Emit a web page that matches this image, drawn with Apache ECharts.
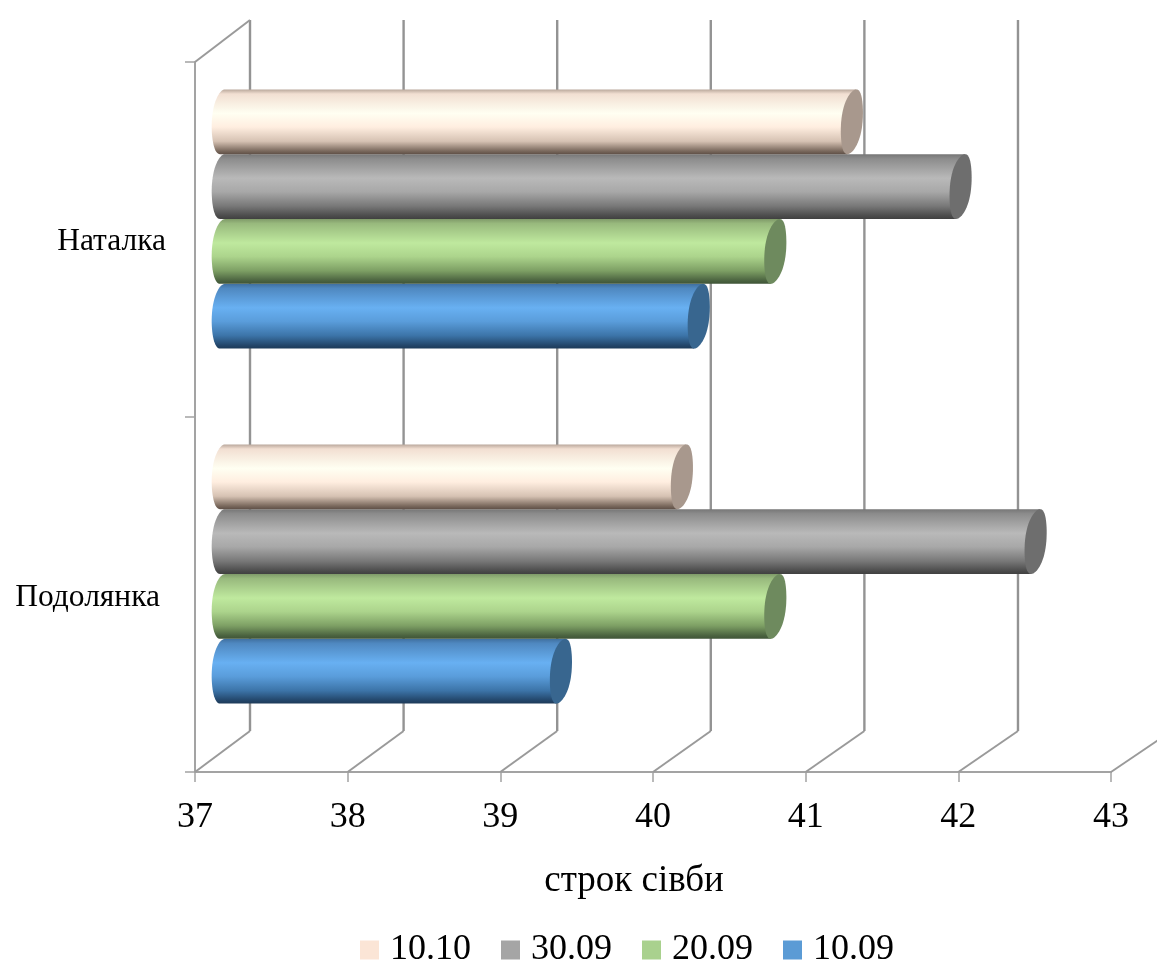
<!DOCTYPE html>
<html><head><meta charset="utf-8">
<style>html,body{margin:0;padding:0;background:#fff}#c{width:1157px;height:962px}</style>
<script src="https://cdn.jsdelivr.net/npm/echarts@6/dist/echarts.min.js"></script>
</head><body><div id="c"></div>
<script>
const categories = ['Подолянка', 'Наталка'];
const seriesNames = ['10.09', '20.09', '30.09', '10.10'];
const v1009 = [39.21, 40.11];
const v2009 = [40.61, 40.61];
const v3009 = [42.31, 41.82];
const v1010 = [40.0, 41.11];
const xTicks = [37, 38, 39, 40, 41, 42, 43];
const legendOrder = ['10.10', '30.09', '20.09', '10.09'];
const values = [v1009, v2009, v3009, v1010];
const legendColors = ['#5b9bd5', '#a9d18e', '#a5a5a5', '#fbe5d6'];
const capColors = ['#38668f', '#6e8a5e', '#6e6e6e', '#a8988d'];
const stopOffsets = [0, 0.07, 0.37, 0.58, 0.8, 0.95, 1];
const bandStops = [
  ['#3f6f9f', '#4f88c0', '#68b0f2', '#5a9ddb', '#3c74a8', '#23466a', '#1d3a58'],
  ['#7f9a69', '#98b97d', '#bfe99e', '#acd48c', '#7d9f64', '#4b6340', '#3f5437'],
  ['#767676', '#8c8c8c', '#b9b9b9', '#a8a8a8', '#787878', '#4c4c4c', '#404040'],
  ['#b9a79b', '#f2dfd2', '#fffff2', '#ffeee0', '#d6c2b3', '#7a695d', '#5f5047']
];
const font = '"Liberation Serif","Times New Roman",serif';
const DEPTH_X = 55, DEPTH_Y = 41, BACK_STRETCH = 0.93, BAR_FRAC = 0.1825;
const RX = 10.7, SHEAR_R = 4.5, SHEAR_L = 2.5;

function ellipseArc(cx, cy, ry, shear, a0, a1, n) {
  const pts = [];
  for (let k = 0; k <= n; k++) {
    const t = a0 + (a1 - a0) * k / n;
    const st = Math.sin(t);
    pts.push([cx + RX * Math.cos(t) - shear * (0.6 * st + 0.4 * st * st * st), cy + ry * st]);
  }
  return pts;
}

function wallItem(params, api) {
  const v = api.value(0);
  const g = params.coordSys;
  const fx = api.coord([v, 0])[0];
  const bot = g.y + g.height;
  const bx = fx + DEPTH_X + (v - xTicks[0]) * BACK_STRETCH;
  const diag = { stroke: '#9a9a9a', lineWidth: 2, fill: null };
  const vert = { stroke: '#939393', lineWidth: 2.4, fill: null };
  const children = [{ type: 'polyline', shape: { points: [[fx, bot], [bx, bot - DEPTH_Y]] }, style: diag }];
  if (v < xTicks[xTicks.length - 1]) {
    children.push({ type: 'polyline', shape: { points: [[bx, bot - DEPTH_Y], [bx, g.y - DEPTH_Y - 1]] }, style: vert });
  }
  if (v === xTicks[0]) {
    children.push({ type: 'polyline', shape: { points: [[fx, g.y], [bx, g.y - DEPTH_Y - 1]] }, style: diag });
  }
  return { type: 'group', children };
}

function barItem(si) {
  return function (params, api) {
    const v = api.value(0);
    const c = api.coord([v, api.value(1)]);
    const c0 = api.coord([xTicks[0], api.value(1)]);
    const band = api.size([0, 1])[1];
    const h = band * BAR_FRAC;
    const cy = c[1] - DEPTH_Y / 2 - (si - 1.5) * h;
    const cxR = c[0] + (DEPTH_X + (v - xTicks[0]) * BACK_STRETCH) / 2;
    const cxL = c0[0] + DEPTH_X / 2;
    const ry = h / 2;
    const left = ellipseArc(cxL, cy, ry, SHEAR_L, -Math.PI / 2, -Math.PI * 3 / 2, 32);
    const body = left.concat([[cxR - SHEAR_R, cy + ry], [cxR + SHEAR_R, cy - ry]]);
    const grad = new echarts.graphic.LinearGradient(0, 0, 0, 1,
      stopOffsets.map((o, k) => ({ offset: o, color: bandStops[si][k] })));
    const cap = ellipseArc(cxR, cy, ry, SHEAR_R, 0, Math.PI * 2, 64);
    return { type: 'group', children: [
      { type: 'polygon', shape: { points: body }, style: { fill: grad } },
      { type: 'polygon', shape: { points: cap }, style: { fill: capColors[si] } }
    ] };
  };
}

const series = [{
  type: 'custom', name: 'wall', z: 1, silent: true, clip: false,
  data: xTicks.map(t => [t, 0]), encode: { x: 0, y: 1 }, renderItem: wallItem
}];
seriesNames.forEach((n, si) => {
  series.push({
    type: 'custom', name: n, z: 3 + si, clip: false,
    itemStyle: { color: legendColors[si] },
    data: values[si].map((v, i) => [v, i]), encode: { x: 0, y: 1 },
    renderItem: barItem(si)
  });
});

const chart = echarts.init(document.getElementById('c'), null, { renderer: 'canvas' });
chart.setOption({
  animation: false,
  backgroundColor: '#fff',
  grid: { left: 195, right: 46, top: 62, bottom: 190 },
  legend: {
    data: legendOrder, left: 360, top: 932, padding: 0, itemWidth: 19, itemHeight: 19, itemGap: 30,
    icon: 'rect', selectedMode: false,
    textStyle: { fontFamily: font, fontSize: 36, color: '#000', padding: [0, 0, 0, 6] }
  },
  xAxis: {
    type: 'value', min: 37, max: 43, interval: 1,
    name: 'строк сівби', nameLocation: 'middle', nameGap: 91,
    nameTextStyle: { fontFamily: font, fontSize: 37, color: '#000', padding: [0, 38, 0, 0] },
    axisLine: { show: true, lineStyle: { color: '#a3a3a3', width: 2 } },
    axisTick: { show: true, length: 10, lineStyle: { color: '#a3a3a3', width: 1.5 } },
    axisLabel: { fontFamily: font, fontSize: 36, color: '#000', margin: 28, showMinLabel: true, showMaxLabel: true },
    splitLine: { show: false }
  },
  yAxis: {
    type: 'category', data: categories,
    axisLine: { show: true, lineStyle: { color: '#a3a3a3', width: 2 } },
    axisTick: { show: true, length: 10, alignWithLabel: false, lineStyle: { color: '#a3a3a3', width: 1.5 } },
    axisLabel: {
      margin: 29, fontFamily: font, fontSize: 31.5, color: '#000',
      formatter: (t, i) => i === 0 ? '{a|' + t + '}' : '{b|' + t + '}',
      rich: {
        a: { fontFamily: font, fontSize: 31.5, color: '#000', padding: [7, 6, 0, 0] },
        b: { fontFamily: font, fontSize: 31.5, color: '#000', padding: [4, 0, 0, 0] }
      }
    },
    splitLine: { show: false }
  },
  tooltip: { show: false },
  series
});
</script></body></html>
